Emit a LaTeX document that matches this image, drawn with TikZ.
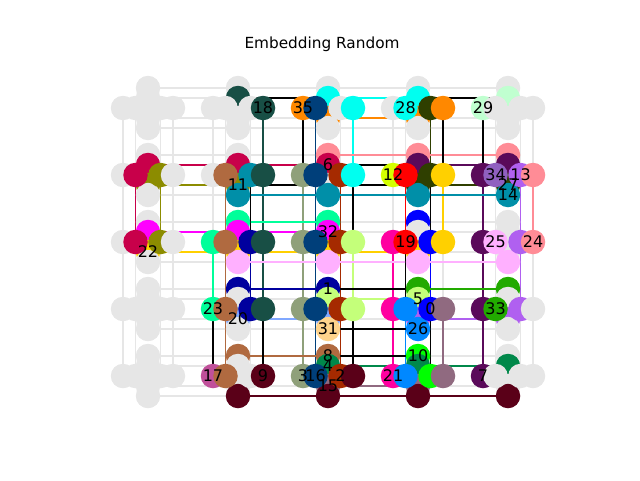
\documentclass[tikz,border=0pt]{standalone}
\usepackage{fontspec}
\setmainfont{DejaVu Sans}
\pgfdeclarelayer{edgelayer}
\pgfsetlayers{edgelayer,main}
\definecolor{ng}{HTML}{E6E6E6}
\definecolor{c0}{HTML}{0000FF}
\definecolor{c1}{HTML}{00009E}
\definecolor{c2}{HTML}{A52A00}
\definecolor{c3}{HTML}{8FA07A}
\definecolor{c4}{HTML}{00884A}
\definecolor{c5}{HTML}{C4FF7A}
\definecolor{c6}{HTML}{C8004A}
\definecolor{c7}{HTML}{5A0A5A}
\definecolor{c8}{HTML}{B06A40}
\definecolor{c9}{HTML}{5A0018}
\definecolor{c10}{HTML}{00FF00}
\definecolor{c11}{HTML}{8C8C00}
\definecolor{c12}{HTML}{D4FF00}
\definecolor{c13}{HTML}{B060F0}
\definecolor{c14}{HTML}{008FA8}
\definecolor{c15}{HTML}{906A80}
\definecolor{c16}{HTML}{003F7A}
\definecolor{c17}{HTML}{C0509A}
\definecolor{c18}{HTML}{184F45}
\definecolor{c19}{HTML}{FF0000}
\definecolor{c20}{HTML}{80A8FF}
\definecolor{c21}{HTML}{FF00A0}
\definecolor{c22}{HTML}{FFD000}
\definecolor{c23}{HTML}{00FF9A}
\definecolor{c24}{HTML}{FF8C96}
\definecolor{c25}{HTML}{FFB0FF}
\definecolor{c26}{HTML}{0088FF}
\definecolor{c27}{HTML}{2F3F00}
\definecolor{c28}{HTML}{00FFF0}
\definecolor{c29}{HTML}{C0FFD0}
\definecolor{c31}{HTML}{FFD48C}
\definecolor{c32}{HTML}{FF00FF}
\definecolor{c33}{HTML}{22AA00}
\definecolor{c34}{HTML}{9060C0}
\definecolor{c35}{HTML}{FF8800}
\newcommand\qsetall[2]{\foreach \qq in {#1}{\expandafter\xdef\csname qc-\qq\endcsname{#2}}}
\qsetall{v-1-0-1,h-1-0-3,h-1-1-3,h-1-2-3,h-1-3-3}{c18}
\qsetall{h-2-0-0,v-2-0-2,v-3-0-2,h-3-0-3}{c35}
\qsetall{h-2-0-1,h-2-1-1,h-2-2-1,h-2-3-1,h-2-4-1}{c16}
\qsetall{v-2-0-1,h-2-0-3,h-2-1-3,h-3-0-1,v-3-0-1}{c28}
\qsetall{h-3-0-2,h-3-1-2,v-3-1-2,v-4-1-2}{c27}
\qsetall{h-4-0-0,v-4-0-1}{c29}
\qsetall{v-0-1-1,h-0-1-1,h-0-2-1,v-1-1-1,v-2-1-1}{c6}
\qsetall{h-0-1-2,h-0-2-2,v-0-1-2,v-1-1-2}{c11}
\qsetall{h-1-1-2,v-1-1-3,v-2-1-3,v-3-1-3,v-4-1-3}{c14}
\qsetall{h-1-1-1,h-1-2-1,h-1-3-1,h-1-4-1,v-1-4-0,v-2-4-0}{c8}
\qsetall{h-2-1-0,h-2-2-0,h-2-3-0,h-2-4-0}{c3}
\qsetall{h-2-1-2,h-2-2-2,h-2-3-2,h-2-4-2}{c2}
\qsetall{v-2-1-0,v-3-1-0,v-4-1-0,h-4-1-3,h-4-2-3}{c24}
\qsetall{h-3-1-0}{c12}
\qsetall{h-3-1-1,h-3-2-1}{c19}
\qsetall{v-3-1-1,v-4-1-1,h-4-1-0,h-4-2-0,h-4-3-0,h-4-4-0}{c7}
\qsetall{h-3-1-3,h-3-2-3,v-0-2-2,v-1-2-2,v-2-2-2,v-3-2-2}{c22}
\qsetall{h-4-1-1}{c34}
\qsetall{h-4-1-2,h-4-2-2,h-4-3-2,v-3-3-2,v-4-3-2}{c13}
\qsetall{v-0-2-1,v-1-2-1,v-2-2-1}{c32}
\qsetall{h-1-2-0,v-1-2-0,v-2-2-0,h-1-3-0}{c23}
\qsetall{v-1-2-3,v-2-2-3,v-3-2-3,v-4-2-3,h-4-2-1}{c25}
\qsetall{h-1-2-2,h-1-3-2,v-1-3-0,v-2-3-0}{c1}
\qsetall{h-2-2-3,h-2-3-3,v-2-3-1,v-3-3-1}{c5}
\qsetall{h-3-2-0,h-3-3-0,h-3-4-0}{c21}
\qsetall{v-3-2-0,h-3-2-2,h-3-3-2}{c0}
\qsetall{v-1-3-2,v-2-3-2}{c20}
\qsetall{v-2-3-3}{c31}
\qsetall{v-3-3-0,v-4-3-0,h-4-3-1}{c33}
\qsetall{h-3-3-1,v-3-3-3,h-3-4-1}{c26}
\qsetall{h-3-3-3,h-3-4-3,v-2-4-2,v-3-4-2}{c15}
\qsetall{h-1-4-0}{c17}
\qsetall{h-1-4-3,v-1-4-3,v-2-4-3,h-2-4-3,v-3-4-3,v-4-4-3}{c9}
\qsetall{v-2-4-1,v-3-4-1,v-4-4-1}{c4}
\qsetall{v-3-4-0,h-3-4-2}{c10}
\begin{document}
\begin{tikzpicture}[x=1pt,y=-1pt,
  qb/.style={circle,minimum size=24.5pt,inner sep=0pt,outer sep=0pt,draw=none},
  latt/.style={draw=ng,line width=1.4pt},
  ed/.style={line width=1.4pt},
  lbl/.style={inner sep=0pt,font=\fontsize{16}{19}\selectfont},
  ttl/.style={inner sep=0pt,font=\fontsize{15.3}{18}\selectfont}]
\useasboundingbox (0,0) rectangle (640,480);
\node[ttl] (title) at (322,44) {Embedding Random};
% qubits: per cell, vertical-line nodes first, then horizontal-line nodes
\foreach \qr in {0,...,4}{
  \foreach \qc in {0,...,4}{
    \foreach \qk/\qd in {0/-20,1/-10,2/10,3/20}{
      \pgfmathsetmacro\qx{148+90*\qc}
      \pgfmathsetmacro\qy{108+67*\qr+(\qd)}
      \ifcsname qc-v-\qc-\qr-\qk\endcsname
        \edef\qcol{\csname qc-v-\qc-\qr-\qk\endcsname}%
      \else
        \def\qcol{ng}%
      \fi
      \node[qb,fill=\qcol] (v-\qc-\qr-\qk) at (\qx,\qy) {};
    }
    \foreach \qk/\qd in {0/-25,1/-12.5,2/12.5,3/25}{
      \pgfmathsetmacro\qx{148+90*\qc+(\qd)}
      \pgfmathsetmacro\qy{108+67*\qr}
      \ifcsname qc-h-\qc-\qr-\qk\endcsname
        \edef\qcol{\csname qc-h-\qc-\qr-\qk\endcsname}%
      \else
        \def\qcol{ng}%
      \fi
      \node[qb,fill=\qcol] (h-\qc-\qr-\qk) at (\qx,\qy) {};
    }
  }
}
\begin{pgfonlayer}{edgelayer}
% lattice couplers
\foreach \qc in {0,...,4}{
  \foreach \qr [evaluate=\qr as \qn using int(\qr+1)] in {0,...,3}{
    \foreach \qk in {0,...,3}{
      \draw[latt] (h-\qc-\qr-\qk) -- (h-\qc-\qn-\qk);
    }}}
\foreach \qr in {0,...,4}{
  \foreach \qc [evaluate=\qc as \qn using int(\qc+1)] in {0,...,3}{
    \foreach \qk in {0,...,3}{
      \draw[latt] (v-\qc-\qr-\qk) -- (v-\qn-\qr-\qk);
    }}}
% chain edges (vertical)
\draw[ed,c6] (h-0-1-1) -- (h-0-2-1);
\draw[ed,c11] (h-0-1-2) -- (h-0-2-2);
\draw[ed,c8] (h-1-1-1) -- (h-1-2-1) -- (h-1-3-1) -- (h-1-4-1);
\draw[ed,c23] (h-1-2-0) -- (h-1-3-0);
\draw[ed,c1] (h-1-2-2) -- (h-1-3-2);
\draw[ed,c18] (h-1-0-3) -- (h-1-1-3) -- (h-1-2-3) -- (h-1-3-3);
\draw[ed,c3] (h-2-1-0) -- (h-2-2-0) -- (h-2-3-0) -- (h-2-4-0);
\draw[ed,c16] (h-2-0-1) -- (h-2-1-1) -- (h-2-2-1) -- (h-2-3-1) -- (h-2-4-1);
\draw[ed,c2] (h-2-1-2) -- (h-2-2-2) -- (h-2-3-2) -- (h-2-4-2);
\draw[ed,c28] (h-2-0-3) -- (h-2-1-3);
\draw[ed,c5] (h-2-2-3) -- (h-2-3-3);
\draw[ed,c21] (h-3-2-0) -- (h-3-3-0) -- (h-3-4-0);
\draw[ed,c19] (h-3-1-1) -- (h-3-2-1);
\draw[ed,c26] (h-3-3-1) -- (h-3-4-1);
\draw[ed,c27] (h-3-0-2) -- (h-3-1-2);
\draw[ed,c0] (h-3-2-2) -- (h-3-3-2);
\draw[ed,c22] (h-3-1-3) -- (h-3-2-3);
\draw[ed,c15] (h-3-3-3) -- (h-3-4-3);
\draw[ed,c7] (h-4-1-0) -- (h-4-2-0) -- (h-4-3-0) -- (h-4-4-0);
\draw[ed,c13] (h-4-1-2) -- (h-4-2-2) -- (h-4-3-2);
\draw[ed,c24] (h-4-1-3) -- (h-4-2-3);
% chain edges (horizontal)
\draw[ed,c28] (v-2-0-1) -- (v-3-0-1);
\draw[ed,c35] (v-2-0-2) -- (v-3-0-2);
\draw[ed,c24] (v-2-1-0) -- (v-3-1-0) -- (v-4-1-0);
\draw[ed,c6] (v-0-1-1) -- (v-1-1-1) -- (v-2-1-1);
\draw[ed,c7] (v-3-1-1) -- (v-4-1-1);
\draw[ed,c11] (v-0-1-2) -- (v-1-1-2);
\draw[ed,c27] (v-3-1-2) -- (v-4-1-2);
\draw[ed,c14] (v-1-1-3) -- (v-2-1-3) -- (v-3-1-3) -- (v-4-1-3);
\draw[ed,c23] (v-1-2-0) -- (v-2-2-0);
\draw[ed,c32] (v-0-2-1) -- (v-1-2-1) -- (v-2-2-1);
\draw[ed,c22] (v-0-2-2) -- (v-1-2-2) -- (v-2-2-2) -- (v-3-2-2);
\draw[ed,c25] (v-1-2-3) -- (v-2-2-3) -- (v-3-2-3) -- (v-4-2-3);
\draw[ed,c1] (v-1-3-0) -- (v-2-3-0);
\draw[ed,c33] (v-3-3-0) -- (v-4-3-0);
\draw[ed,c5] (v-2-3-1) -- (v-3-3-1);
\draw[ed,c20] (v-1-3-2) -- (v-2-3-2);
\draw[ed,c13] (v-3-3-2) -- (v-4-3-2);
\draw[ed,c8] (v-1-4-0) -- (v-2-4-0);
\draw[ed,c4] (v-2-4-1) -- (v-3-4-1) -- (v-4-4-1);
\draw[ed,c15] (v-2-4-2) -- (v-3-4-2);
\draw[ed,c9] (v-1-4-3) -- (v-2-4-3) -- (v-3-4-3) -- (v-4-4-3);
% interaction edges
\draw[ed,black] (h-1-3-0) -- (h-1-4-0);
\draw[ed,black] (h-1-1-2) -- (h-1-2-2);
\draw[ed,black] (h-1-3-3) -- (h-1-4-3);
\draw[ed,black] (h-2-0-0) -- (h-2-1-0);
\draw[ed,black] (h-2-1-3) -- (h-2-2-3);
\draw[ed,black] (h-2-3-3) -- (h-2-4-3);
\draw[ed,black] (h-3-2-1) -- (h-3-3-1);
\draw[ed,black] (h-3-1-2) -- (h-3-2-2);
\draw[ed,black] (h-3-3-2) -- (h-3-4-2);
\draw[ed,black] (h-3-0-3) -- (h-3-1-3);
\draw[ed,black] (h-4-0-0) -- (h-4-1-0);
\draw[ed,black] (v-1-0-1) -- (v-2-0-1);
\draw[ed,black] (v-3-0-1) -- (v-4-0-1);
\draw[ed,black] (v-2-1-1) -- (v-3-1-1);
\draw[ed,black] (v-1-1-2) -- (v-2-1-2) -- (v-3-1-2);
\draw[ed,black] (v-2-3-0) -- (v-3-3-0);
\draw[ed,black] (v-2-3-3) -- (v-3-3-3);
\draw[ed,black] (v-2-4-0) -- (v-3-4-0);
\end{pgfonlayer}
% chain labels
\node[lbl] (l0) at (h-3-3-2) {0};
\node[lbl] (l1) at (v-2-3-0) {1};
\node[lbl] (l2) at (h-2-4-2) {2};
\node[lbl] (l3) at (h-2-4-0) {3};
\node[lbl] (l4) at (v-2-4-1) {4};
\node[lbl] (l5) at (v-3-3-1) {5};
\node[lbl] (l6) at (v-2-1-1) {6};
\node[lbl] (l7) at (h-4-4-0) {7};
\node[lbl] (l8) at (v-2-4-0) {8};
\node[lbl] (l9) at (h-1-4-3) {9};
\node[lbl] (l10) at (v-3-4-0) {10};
\node[lbl] (l11) at (v-1-1-2) {11};
\node[lbl] (l12) at (h-3-1-0) {12};
\node[lbl] (l13) at (h-4-1-2) {13};
\node[lbl] (l14) at (v-4-1-3) {14};
\node[lbl] (l15) at (v-2-4-2) {15};
\node[lbl] (l16) at (h-2-4-1) {16};
\node[lbl] (l17) at (h-1-4-0) {17};
\node[lbl] (l18) at (h-1-0-3) {18};
\node[lbl] (l19) at (h-3-2-1) {19};
\node[lbl] (l20) at (v-1-3-2) {20};
\node[lbl] (l21) at (h-3-4-0) {21};
\node[lbl] (l22) at (v-0-2-2) {22};
\node[lbl] (l23) at (h-1-3-0) {23};
\node[lbl] (l24) at (h-4-2-3) {24};
\node[lbl] (l25) at (h-4-2-1) {25};
\node[lbl] (l26) at (v-3-3-3) {26};
\node[lbl] (l27) at (v-4-1-2) {27};
\node[lbl] (l28) at (h-3-0-1) {28};
\node[lbl] (l29) at (h-4-0-0) {29};
\node[lbl] (l31) at (v-2-3-3) {31};
\node[lbl] (l32) at (v-2-2-1) {32};
\node[lbl] (l33) at (h-4-3-1) {33};
\node[lbl] (l34) at (h-4-1-1) {34};
\node[lbl] (l35) at (h-2-0-0) {35};
\end{tikzpicture}
\end{document}
